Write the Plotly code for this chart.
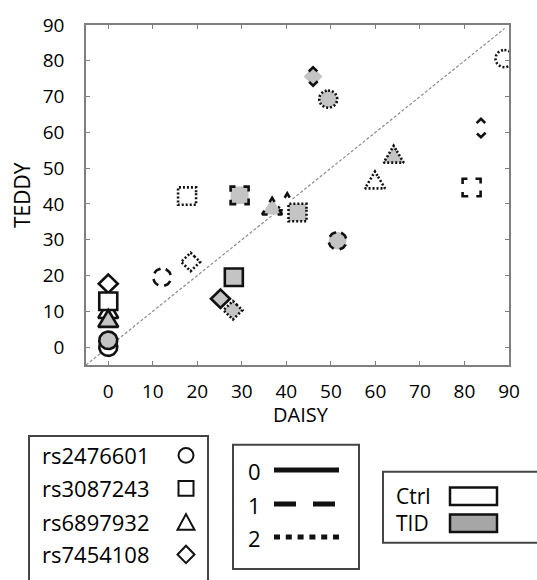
import numpy as np
import plotly.graph_objects as go

# ---------------- data ----------------
snps = ["rs2476601", "rs3087243", "rs6897932", "rs7454108"]
snp_symbols = ["circle", "square", "triangle", "diamond"]
genotype_labels = ["0", "1", "2"]
group_labels = ["Ctrl", "TID"]

# point order inside every SNP list: (genotype, group)
point_genotype = [0, 0, 1, 1, 2, 2]
point_group = ["Ctrl", "TID", "Ctrl", "TID", "Ctrl", "TID"]

daisy_rs2476601 = [0.0, 0.0, 12.1, 51.5, 89.0, 49.4]
teddy_rs2476601 = [0.0, 1.9, 19.5, 29.7, 80.6, 69.3]

daisy_rs3087243 = [0.0, 28.2, 81.6, 29.5, 17.7, 42.5]
teddy_rs3087243 = [12.8, 19.5, 44.6, 42.4, 42.2, 37.6]

daisy_rs6897932 = [0.0, 0.0, 40.2, 36.8, 59.9, 64.1]
teddy_rs6897932 = [10.5, 8.0, 40.6, 39.4, 46.7, 53.9]

daisy_rs7454108 = [0.0, 25.2, 83.7, 46.0, 18.5, 28.0]
teddy_rs7454108 = [17.7, 13.5, 61.2, 75.6, 23.8, 10.3]

axis_ticks = [0, 10, 20, 30, 40, 50, 60, 70, 80, 90]

DAISY = {"rs2476601": daisy_rs2476601, "rs3087243": daisy_rs3087243,
         "rs6897932": daisy_rs6897932, "rs7454108": daisy_rs7454108}
TEDDY = {"rs2476601": teddy_rs2476601, "rs3087243": teddy_rs3087243,
         "rs6897932": teddy_rs6897932, "rs7454108": teddy_rs7454108}

# ---------------- layout geometry ----------------
W, H = 537, 580
ML, MR, MT, MB = 86, 28, 15, 215
AX0, AX1 = -5, 90
SX = (W - ML - MR) / (AX1 - AX0)   # px per data unit (x)
SY = (H - MT - MB) / (AX1 - AX0)   # px per data unit (y)

INK = "#111111"
TXT = "#000000"
GRAY_FILL = "#c4c4c4"
FONT = "Open Sans"


def P(px, py):
    """pixel position in the page -> paper coordinates"""
    return (px - ML) / (W - ML - MR), (H - MB - py) / (H - MT - MB)


DASHES = {0: "solid", 1: None, 2: "2px,2px"}


def outline(sym, cx, cy):
    """outline polygon (pixel offsets, y up) for a marker + dash for 'dashed' style"""
    if sym == "circle":
        r = 9.0
        a = np.deg2rad(100) + np.linspace(0, 2 * np.pi, 61)
        pts = list(zip(r * np.cos(a), r * np.sin(a)))
        dash1 = "8px,6.1px"
    elif sym == "square":
        h = 9.0
        pts = [(h, h - 5), (h, h), (-h, h), (-h, -h), (h, -h), (h, h - 5)]
        dash1 = "10px,8px"
    elif sym == "triangle":
        s, hh = 20.0, 8.66
        apex, bl, br = (0, hh), (-s / 2, -hh), (s / 2, -hh)
        st = (apex[0] + (br[0] - apex[0]) * 5 / s, apex[1] + (br[1] - apex[1]) * 5 / s)
        pts = [st, apex, bl, br, st]
        dash1 = "10px,10px"
    else:  # diamond
        d = 9.5
        side = d * np.sqrt(2)
        top, left, bot, right = (0, d), (-d, 0), (0, -d), (d, 0)
        st = (top[0] + (right[0] - top[0]) * 6 / side, top[1] + (right[1] - top[1]) * 6 / side)
        pts = [st, top, left, bot, right, st]
        dash1 = "12px,%.2fpx" % (2 * side - 12)
    xs = [cx + p[0] / SX for p in pts]
    ys = [cy + p[1] / SY for p in pts]
    return xs, ys, dash1


fig = go.Figure()

# identity line
fig.add_trace(go.Scatter(x=[AX0, 89], y=[AX0, 89], mode="lines",
                         line=dict(color="#8c8c8c", width=1.2, dash="3px,2px"),
                         hoverinfo="skip", showlegend=False))

draw_snp_order = ["rs7454108", "rs6897932", "rs2476601", "rs3087243"]
for grp in group_labels:
    for g in [2, 1, 0]:
        for snp in draw_snp_order:
            sym = snp_symbols[snps.index(snp)]
            for i in range(6):
                if point_genotype[i] != g or point_group[i] != grp:
                    continue
                xs, ys, d1 = outline(sym, DAISY[snp][i], TEDDY[snp][i])
                dash = d1 if g == 1 else DASHES[g]
                fig.add_trace(go.Scatter(
                    x=xs, y=ys, mode="lines", fill="toself",
                    fillcolor="white" if grp == "Ctrl" else GRAY_FILL,
                    line=dict(color=INK, width=2.6, dash=dash),
                    hoverinfo="skip", showlegend=False,
                    name=f"{snp} {genotype_labels[g]} {grp}"))

axis_common = dict(range=[AX0, AX1], tickvals=axis_ticks, ticktext=[str(t) for t in axis_ticks],
                   showgrid=False, zeroline=False, showline=True, mirror="ticks",
                   linecolor="#7f7f7f", linewidth=1.5, ticks="inside", ticklen=4,
                   tickwidth=1.2, tickcolor="#7f7f7f",
                   tickfont=dict(family=FONT, size=19, color=TXT), fixedrange=True)

fig.update_layout(
    width=W, height=H, autosize=False,
    margin=dict(l=ML, r=MR, t=MT, b=MB, pad=0),
    paper_bgcolor="white", plot_bgcolor="white",
    xaxis=dict(**axis_common, ticklabelstandoff=8),
    yaxis=dict(**axis_common, ticklabelstandoff=16),
    showlegend=False,
)

shapes = []
annots = []


def text(s, px, py, size=22, anchor="left", angle=0):
    x, y = P(px, py)
    annots.append(dict(text=s, x=x, y=y, xref="paper", yref="paper", showarrow=False,
                       xanchor=anchor, yanchor="middle", textangle=angle,
                       font=dict(family=FONT, size=size, color=TXT)))


def rect(px0, py0, px1, py1, color="#444444", width=2, fill="rgba(0,0,0,0)"):
    x0, y0 = P(px0, py0)
    x1, y1 = P(px1, py1)
    shapes.append(dict(type="rect", xref="paper", yref="paper", x0=x0, y0=y0, x1=x1, y1=y1,
                       line=dict(color=color, width=width), fillcolor=fill, layer="above"))


def path(points, width=2, color=INK):
    s = "M " + " L ".join("%f,%f" % P(a, b) for a, b in points) + " Z"
    shapes.append(dict(type="path", xref="paper", yref="paper", path=s,
                       line=dict(color=color, width=width), fillcolor="rgba(0,0,0,0)"))


def hline(px0, px1, py, dash, width=5):
    x0, y = P(px0, py)
    x1, _ = P(px1, py)
    shapes.append(dict(type="line", xref="paper", yref="paper", x0=x0, y0=y, x1=x1, y1=y,
                       line=dict(color=INK, width=width, dash=dash)))


# axis titles
text("TEDDY", 22, 190, size=21, anchor="center", angle=-90)
text("DAISY", 301, 416, size=20, anchor="center")

# legend 1: SNP -> symbol
rect(29, 438, 208, 600)
row_y = [458, 492, 527, 560]
for snp, yy in zip(snps, row_y):
    text(snp, 40, yy, size=22)
sx0 = 186
c0 = P(sx0 - 7.5, 458 + 7.5)
c1 = P(sx0 + 7.5, 458 - 7.5)
shapes.append(dict(type="circle", xref="paper", yref="paper", x0=c0[0], y0=c0[1],
                   x1=c1[0], y1=c1[1], line=dict(color=INK, width=2)))
path([(sx0 - 7.5, 492 - 7.5), (sx0 + 7.5, 492 - 7.5), (sx0 + 7.5, 492 + 7.5), (sx0 - 7.5, 492 + 7.5)])
path([(sx0, 527 - 8.5), (sx0 + 8.5, 527 + 7.5), (sx0 - 8.5, 527 + 7.5)])
path([(sx0, 560 - 9), (sx0 + 8.5, 560), (sx0, 560 + 9), (sx0 - 8.5, 560)])

# legend 2: genotype -> line style
rect(233, 447, 359, 575)
for lab, yy, dash in zip(genotype_labels, [473, 508, 542], ["solid", "22px,17px", "6px,5.8px"]):
    text(lab, 254, yy + 1, size=22, anchor="center")
    hline(274, 339, yy, dash)

# legend 3: group -> fill
rect(383, 475, 560, 548)
for lab, yy, fill in zip(group_labels, [500, 528], ["white", "#a6a6a6"]):
    text(lab, 394, yy, size=21)
    rect(450, yy - 9, 497, yy + 9, color=INK, width=2.5, fill=fill)

fig.update_layout(shapes=shapes, annotations=annots)
fig.write_html("out.html")
